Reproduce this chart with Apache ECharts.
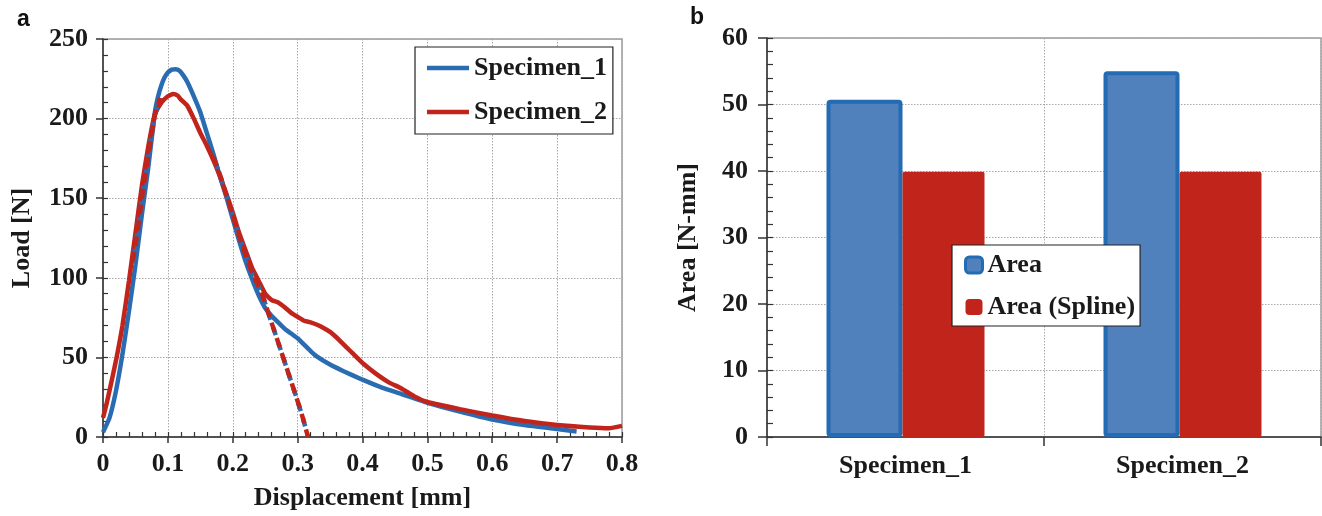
<!DOCTYPE html>
<html>
<head>
<meta charset="utf-8">
<script src="https://cdn.jsdelivr.net/npm/echarts@6/dist/echarts.min.js"></script>
<style>
html,body{margin:0;padding:0;background:#fff;}
#c{width:1322px;height:516px;}
</style>
</head>
<body>
<div id="c"></div>
<script>
// ---- Panel a: load-displacement curves ----
const disp1 = [0, 0.01, 0.02, 0.03, 0.04, 0.05, 0.06, 0.07, 0.08, 0.085, 0.09, 0.095, 0.1, 0.106, 0.112, 0.118, 0.124, 0.13, 0.14, 0.15, 0.16, 0.17, 0.18, 0.19, 0.2, 0.21, 0.22, 0.23, 0.24, 0.25, 0.26, 0.27, 0.28, 0.29, 0.3, 0.31, 0.32, 0.33, 0.35, 0.37, 0.4, 0.43, 0.46, 0.5, 0.55, 0.6, 0.65, 0.7, 0.73];
const load1 = [3, 12, 29, 52, 79, 108, 140, 170, 204, 214, 221, 226, 229, 230.8, 231, 230, 227, 223, 214, 204, 191, 178, 164, 151, 137, 123, 110, 99, 89, 81, 76, 72, 68, 65, 62, 58, 54, 50.5, 45.5, 41.5, 36, 31, 27, 21.5, 16, 11, 7.5, 5, 3.5];
const disp2 = [0, 0.005, 0.01, 0.02, 0.03, 0.04, 0.05, 0.06, 0.07, 0.08, 0.09, 0.1, 0.108, 0.115, 0.12, 0.13, 0.14, 0.15, 0.16, 0.17, 0.18, 0.19, 0.2, 0.21, 0.22, 0.23, 0.24, 0.25, 0.26, 0.27, 0.28, 0.29, 0.3, 0.31, 0.32, 0.33, 0.34, 0.35, 0.36, 0.37, 0.38, 0.39, 0.4, 0.42, 0.44, 0.46, 0.48, 0.5, 0.55, 0.6, 0.65, 0.7, 0.75, 0.78, 0.8];
const load2 = [12, 20, 29, 48, 70, 98, 128, 158, 183, 203, 210, 214, 215.5, 214.5, 212, 208, 200, 191, 183, 174, 164, 153, 141, 128, 117, 106, 98, 90, 86, 84.5, 81.5, 78, 75.5, 73, 72, 70.5, 68.5, 66, 62.5, 58.5, 54.5, 50.5, 46.5, 40, 34.5, 30.5, 25.5, 22, 17.5, 13.5, 10, 7.5, 6, 5.5, 7];
// spline fit (dashed)
const riseDisp = [0.045, 0.05, 0.06, 0.07, 0.08, 0.088];
const riseLoad = [110, 120, 150, 177, 202, 213];
const fallDisp = [0.17, 0.18, 0.19, 0.2, 0.21, 0.22, 0.23, 0.244, 0.258, 0.272, 0.285, 0.298, 0.308, 0.316];
const fallLoad = [176, 165, 152, 139, 126, 114, 103, 91, 74, 57, 41, 25, 12, 0];
const lineNames = ['Specimen_1', 'Specimen_2'];

// ---- Panel b: areas ----
const categories = ['Specimen_1', 'Specimen_2'];
const areaValues = [50.7, 55.0];
const splineAreaValues = [39.9, 39.9];
const barNames = ['Area', 'Area (Spline)'];

const zip = (xs, ys) => xs.map((x, i) => [x, ys[i]]);

const BLUE = '#2a6cb2';
const RED = '#c0241b';
const FONT = 'Liberation Serif';
const txt = {fontFamily: FONT, fontWeight: 'bold', fontSize: 26, color: '#1a1a1a'};
const gridLine = {show: true, lineStyle: {type: [1.5, 1.5], color: '#a8a8a8', width: 1}};
const axLine = {show: true, onZero: false, lineStyle: {color: '#333', width: 1.5}};

const chart = echarts.init(document.getElementById('c'), null, {renderer: 'canvas'});

function dashed(xs, ys, color, dash, off, z) {
  return {
    type: 'line', xAxisIndex: 0, yAxisIndex: 0, data: zip(xs, ys),
    symbol: 'none', smooth: 0.2, z: z,
    lineStyle: {color: color, width: 4.5, type: dash, dashOffset: off, cap: 'butt'},
    silent: true
  };
}

const option = {
  animation: false,
  backgroundColor: '#fff',
  graphic: [
    {type: 'text', left: 17, top: 8, style: {text: 'a', font: 'bold 23px "Liberation Sans"', fill: '#111'}},
    {type: 'text', left: 690, top: 6, style: {text: 'b', font: 'bold 23px "Liberation Sans"', fill: '#111'}}
  ],
  grid: [
    {left: 103, right: 700, top: 39, bottom: 79, show: true, borderColor: '#9a9a9a', borderWidth: 1.5},
    {left: 767, right: 1, top: 38, bottom: 79, show: true, borderColor: '#9a9a9a', borderWidth: 1.5}
  ],
  legend: [
    {
      data: [
        {name: lineNames[0], icon: 'rect', itemStyle: {color: BLUE}},
        {name: lineNames[1], icon: 'rect', itemStyle: {color: RED}}
      ],
      orient: 'vertical', left: 415, top: 47,
      backgroundColor: '#fff', borderColor: '#222', borderWidth: 1.2,
      padding: [6, 6, 7, 12], itemWidth: 42, itemHeight: 4.5, itemGap: 14,
      textStyle: Object.assign({lineHeight: 30}, txt)
    },
    {
      data: [{name: barNames[0], itemStyle: {borderWidth: 3}}, {name: barNames[1]}],
      orient: 'vertical', left: 952, top: 245,
      backgroundColor: '#fff', borderColor: '#222', borderWidth: 1.2,
      padding: [5, 5, 4, 12], itemWidth: 17, itemHeight: 16, itemGap: 12,
      icon: 'roundRect',
      textStyle: Object.assign({lineHeight: 30}, txt)
    }
  ],
  xAxis: [
    {
      gridIndex: 0, type: 'value', min: 0, max: 0.8, interval: 0.1, position: 'bottom',
      name: 'Displacement [mm]', nameLocation: 'middle', nameGap: 48, nameTextStyle: txt,
      axisLine: axLine,
      axisTick: {show: true, inside: false, length: 6, lineStyle: {color: '#333', width: 1.5}},
      axisLabel: Object.assign({margin: 14, formatter: v => v === 0 ? '0' : v.toFixed(1)}, txt),
      splitLine: gridLine
    },
    {
      gridIndex: 0, type: 'value', min: 0, max: 0.8, interval: 0.1, position: 'bottom',
      axisLine: {show: false}, axisLabel: {show: false}, splitLine: {show: false},
      axisTick: {show: true, inside: true, length: 5, lineStyle: {color: '#333', width: 1.2}},
      minorTick: {show: true, splitNumber: 5, length: 5, lineStyle: {color: '#333', width: 1.2}}
    },
    {
      gridIndex: 1, type: 'category', data: categories, position: 'bottom',
      axisLine: axLine,
      axisTick: {show: true, inside: false, length: 9, alignWithLabel: false, lineStyle: {color: '#333', width: 1.5}},
      axisLabel: Object.assign({margin: 16}, txt),
      splitLine: Object.assign({interval: 0}, gridLine)
    },
    {
      gridIndex: 1, type: 'category', data: categories, position: 'bottom',
      axisLine: {show: false}, axisLabel: {show: false}, splitLine: {show: false},
      axisTick: {show: true, inside: true, length: 6, alignWithLabel: true, lineStyle: {color: '#333', width: 1.2}}
    }
  ],
  yAxis: [
    {
      gridIndex: 0, type: 'value', min: 0, max: 250, interval: 50, position: 'left',
      name: 'Load [N]', nameLocation: 'middle', nameGap: 68, nameRotate: 90, nameTextStyle: txt,
      axisLine: axLine,
      axisTick: {show: true, inside: false, length: 7, lineStyle: {color: '#333', width: 1.5}},
      axisLabel: Object.assign({margin: 15}, txt),
      splitLine: gridLine
    },
    {
      gridIndex: 0, type: 'value', min: 0, max: 250, interval: 50, position: 'left',
      axisLine: {show: false}, axisLabel: {show: false}, splitLine: {show: false},
      axisTick: {show: true, inside: true, length: 5, lineStyle: {color: '#333', width: 1.2}},
      minorTick: {show: true, splitNumber: 5, length: 5, lineStyle: {color: '#333', width: 1.2}}
    },
    {
      gridIndex: 1, type: 'value', min: 0, max: 60, interval: 10, position: 'left',
      name: 'Area [N-mm]', nameLocation: 'middle', nameGap: 66, nameRotate: 90, nameTextStyle: txt,
      axisLine: axLine,
      axisTick: {show: true, inside: false, length: 9, lineStyle: {color: '#333', width: 1.5}},
      axisLabel: Object.assign({margin: 19}, txt),
      splitLine: gridLine
    },
    {
      gridIndex: 1, type: 'value', min: 0, max: 60, interval: 10, position: 'left',
      axisLine: {show: false}, axisLabel: {show: false}, splitLine: {show: false},
      axisTick: {show: true, inside: true, length: 6, lineStyle: {color: '#333', width: 1.2}},
      minorTick: {show: true, splitNumber: 5, length: 6, lineStyle: {color: '#333', width: 1.2}}
    }
  ],
  series: [
    {
      name: lineNames[0], type: 'line', xAxisIndex: 0, yAxisIndex: 0, data: zip(disp1, load1),
      symbol: 'none', smooth: 0.15, z: 3, color: BLUE,
      lineStyle: {color: BLUE, width: 4.5}
    },
    {
      name: lineNames[1], type: 'line', xAxisIndex: 0, yAxisIndex: 0, data: zip(disp2, load2),
      symbol: 'none', smooth: 0.15, z: 4, color: RED,
      lineStyle: {color: RED, width: 4.5}
    },
    dashed(riseDisp, riseLoad, BLUE, [8, 8], -5, 5),
    dashed(riseDisp, riseLoad, RED, [10, 6], 0, 6),
    dashed(fallDisp, fallLoad, BLUE, [8, 8], -5, 5),
    dashed(fallDisp, fallLoad, RED, [10, 6], 0, 6),
    {
      name: barNames[0], type: 'bar', xAxisIndex: 2, yAxisIndex: 2, data: areaValues,
      barWidth: 76, barGap: '0%',
      itemStyle: {color: '#5181bc', borderColor: '#236bb2', borderWidth: 4, borderRadius: 2}
    },
    {
      name: barNames[1], type: 'bar', xAxisIndex: 2, yAxisIndex: 2, data: splineAreaValues,
      barWidth: 82, barGap: '0%',
      itemStyle: {color: '#c0241a', borderWidth: 0, borderRadius: 2}
    }
  ]
};
chart.setOption(option);
</script>
</body>
</html>
